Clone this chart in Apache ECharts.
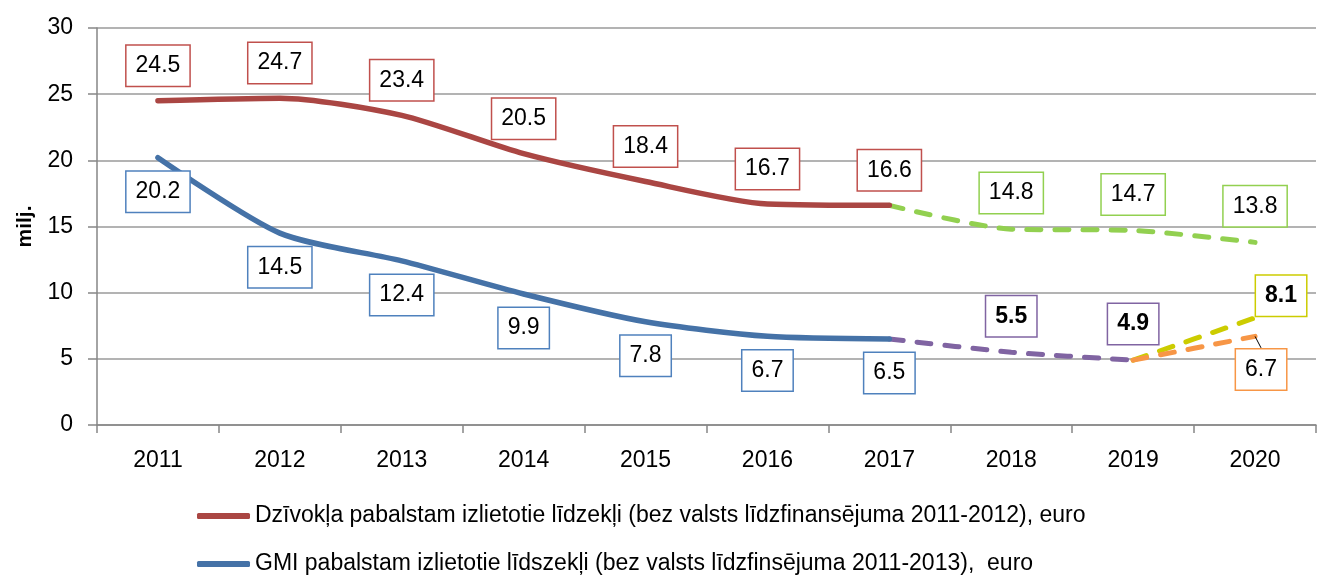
<!DOCTYPE html>
<html>
<head>
<meta charset="utf-8">
<script src="https://cdn.jsdelivr.net/npm/echarts@6/dist/echarts.min.js"></script>
<style>html,body{margin:0;padding:0;background:#fff}#c{width:1319px;height:577px}</style>
</head>
<body>
<div id="c"></div>
<script>
const years = ['2011','2012','2013','2014','2015','2016','2017','2018','2019','2020'];
const housingActual = [24.5, 24.7, 23.4, 20.5, 18.4, 16.7, 16.6, null, null, null];
const housingForecast = [null, null, null, null, null, null, 16.6, 14.8, 14.7, 13.8];
const gmiActual = [20.2, 14.5, 12.4, 9.9, 7.8, 6.7, 6.5, null, null, null];
const gmiForecast = [null, null, null, null, null, null, 6.5, 5.5, 4.9, null];
const gmiHigh = [null, null, null, null, null, null, null, null, 4.9, 8.1];
const gmiLow = [null, null, null, null, null, null, null, null, 4.9, 6.7];
const yTicks = [0, 5, 10, 15, 20, 25, 30];
const legendNames = [
  'Dzīvokļa pabalstam izlietotie līdzekļi (bez valsts līdzfinansējuma 2011-2012), euro',
  'GMI pabalstam izlietotie līdszekļi (bez valsts līdzfinsējuma 2011-2013),  euro'
];

const FONT = '"Liberation Sans", Arial, sans-serif';

function boxLabel(border, pos, dist, extra) {
  return Object.assign({
    show: true,
    position: pos,
    distance: dist,
    color: '#000',
    fontFamily: FONT,
    fontSize: 23,
    lineHeight: 24,
    backgroundColor: '#fff',
    borderColor: border,
    borderWidth: 1.5,
    padding: [8, 9, 8, 9],
    formatter: p => p.value == null ? '' : Number(p.value).toFixed(1)
  }, extra || {});
}

function mark(arr, hideIdx) {
  return arr.map((v, i) => {
    if (v == null) return null;
    const o = { value: v };
    if (hideIdx.includes(i)) o.label = { show: false };
    return o;
  });
}

const chart = echarts.init(document.getElementById('c'), null, { renderer: 'canvas' });
chart.setOption({
  animation: false,
  backgroundColor: '#fff',
  grid: { left: 97, right: 3, top: 28, bottom: 152 },
  legend: {
    data: legendNames,
    orient: 'vertical',
    left: 197,
    top: 504,
    height: 73,
    padding: 0,
    itemWidth: 53,
    itemHeight: 6,
    itemGap: 24,
    icon: 'roundRect',
    textStyle: { fontFamily: FONT, fontSize: 23, lineHeight: 24, color: '#000' }
  },
  xAxis: {
    type: 'category',
    data: years,
    boundaryGap: true,
    axisLine: { lineStyle: { color: '#868686', width: 1.5 } },
    axisTick: { show: true, length: 8, lineStyle: { color: '#868686', width: 1.5 } },
    axisLabel: { fontFamily: FONT, fontSize: 23, color: '#000', margin: 24 }
  },
  yAxis: {
    type: 'value',
    min: yTicks[0],
    max: yTicks[yTicks.length - 1],
    interval: 5,
    name: 'milj.',
    nameLocation: 'middle',
    nameRotate: 90,
    nameGap: 61,
    nameTextStyle: { fontFamily: FONT, fontSize: 21, fontWeight: 'bold', color: '#000' },
    axisLine: { show: true, lineStyle: { color: '#868686', width: 1.5 } },
    axisTick: { show: true, length: 9, lineStyle: { color: '#868686', width: 1.5 } },
    axisLabel: { fontFamily: FONT, fontSize: 23, color: '#000', margin: 24 },
    splitLine: { lineStyle: { color: '#9a9a9a', width: 1.5 } }
  },
  series: [
    {
      name: legendNames[0], type: 'line', data: mark(housingActual, []),
      smooth: 0.25, symbol: 'circle', symbolSize: 0.1, showSymbol: true,
      itemStyle: { color: '#AA4643' },
      lineStyle: { color: '#AA4643', width: 5.5, cap: 'round' },
      label: boxLabel('#C0504D', 'top', 15), z: 3
    },
    {
      name: 'housingForecast', type: 'line', data: mark(housingForecast, [6]),
      smooth: 0.25, symbol: 'circle', symbolSize: 0.1, showSymbol: true,
      itemStyle: { color: '#92D050' },
      lineStyle: { color: '#92D050', width: 5, type: [14, 14], cap: 'round' },
      label: boxLabel('#92D050', 'top', 16), z: 2
    },
    {
      name: legendNames[1], type: 'line', data: mark(gmiActual, []),
      smooth: 0.25, symbol: 'circle', symbolSize: 0.1, showSymbol: true,
      itemStyle: { color: '#4572A7' },
      lineStyle: { color: '#4572A7', width: 5.5, cap: 'round' },
      label: boxLabel('#4F81BD', 'bottom', 14), z: 3
    },
    {
      name: 'gmiForecast', type: 'line', data: mark(gmiForecast, [6]),
      smooth: 0.25, symbol: 'circle', symbolSize: 0.1, showSymbol: true,
      itemStyle: { color: '#8064A2' },
      lineStyle: { color: '#8064A2', width: 5, type: [14, 14], cap: 'round' },
      label: boxLabel('#8064A2', 'top', 16, { fontWeight: 'bold' }), z: 2
    },
    {
      name: 'gmiHigh', type: 'line', data: mark(gmiHigh, [8]),
      smooth: 0.25, symbol: 'circle', symbolSize: 0.1, showSymbol: true,
      itemStyle: { color: '#CCCC00' },
      lineStyle: { color: '#CCCC00', width: 5, type: [14, 14], cap: 'round' },
      label: boxLabel('#CCCC00', 'top', 2, { fontWeight: 'bold', offset: [26, 0] }), z: 2
    },
    {
      name: 'gmiLow', type: 'line', data: mark(gmiLow, [8]),
      smooth: 0.25, symbol: 'circle', symbolSize: 0.1, showSymbol: true,
      itemStyle: { color: '#F79646' },
      lineStyle: { color: '#F79646', width: 5, type: [14, 14], cap: 'round' },
      label: boxLabel('#F79646', 'bottom', 13),
      labelLayout: { dx: 6 },
      labelLine: { show: true, lineStyle: { color: '#000', width: 1 } },
      z: 2
    }
  ]
});
</script>
</body>
</html>
